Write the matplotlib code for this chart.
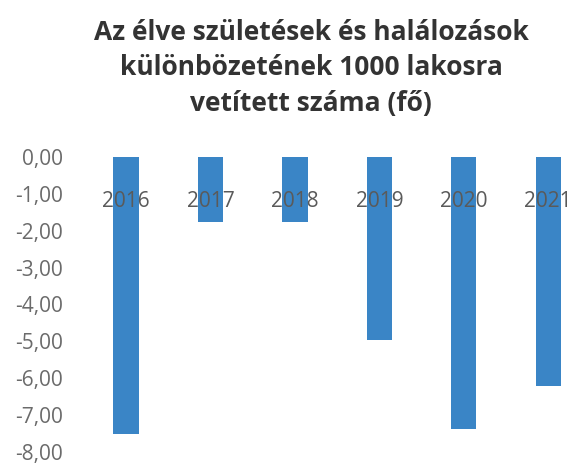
import matplotlib
matplotlib.use("Agg")
import matplotlib.pyplot as plt
from matplotlib.ticker import FuncFormatter

years = ["2016", "2017", "2018", "2019", "2020", "2021"]
values = [-7.5, -1.77, -1.78, -4.97, -7.37, -6.2]

title = "Az élve születések és halálozások\nkülönbözetének 1000 lakosra\nvetített száma (fő)"

plt.rcParams['font.family'] = ['Open Sans', 'DejaVu Sans']

fig = plt.figure(figsize=(5.71, 4.68), dpi=100)
ax = fig.add_axes([0.147, 0.034, 0.853, 0.631])

x = range(len(years))
ax.bar(x, values, width=0.3, color='#3a85c6', zorder=1)

ax.set_ylim(-8, 0)
ax.set_xlim(-0.5, 5.27)
ax.set_yticks(range(-8, 1))
ax.yaxis.set_major_formatter(FuncFormatter(lambda v, p: f"{v:.2f}".replace('.', ',').replace('-0,00', '0,00')))
ax.tick_params(axis='y', length=0, labelsize=15, labelcolor='#6b6b6b', pad=15)

ax.xaxis.tick_top()
ax.set_xticks(list(x))
ax.set_xticklabels(years)
ax.tick_params(axis='x', length=0, labelsize=15, labelcolor='#5a5a5a', pad=-40)
ax.xaxis.set_zorder(3)

for s in ax.spines.values():
    s.set_visible(False)

fig.text(0.545, 0.96, title, ha='center', va='top', fontsize=19,
         fontweight='bold', color='#333333', linespacing=1.4)

fig.savefig("out.png", dpi=100)
